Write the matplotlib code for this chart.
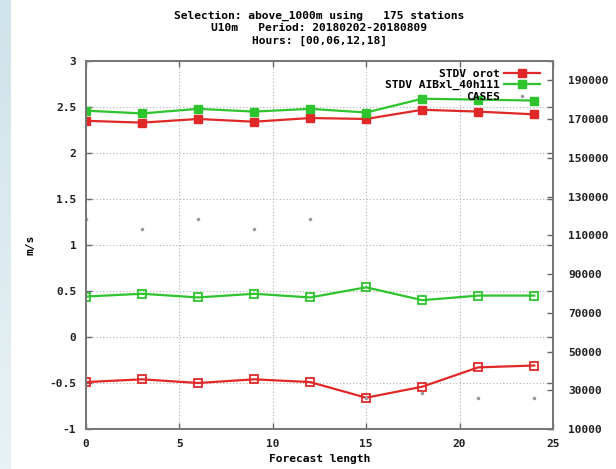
import numpy as np
import matplotlib.pyplot as plt
from matplotlib.lines import Line2D
from matplotlib.colors import LinearSegmentedColormap

# 数据
lead = [0, 3, 6, 9, 12, 15, 18, 21, 24]
stdv_orot = [2.35, 2.33, 2.37, 2.34, 2.38, 2.37, 2.47, 2.45, 2.42]
stdv_aib = [2.46, 2.43, 2.48, 2.45, 2.48, 2.44, 2.59, 2.58, 2.57]
bias_orot = [-0.49, -0.46, -0.50, -0.46, -0.49, -0.66, -0.54, -0.33, -0.31]
bias_aib = [0.44, 0.47, 0.43, 0.47, 0.43, 0.54, 0.40, 0.45, 0.45]
cases = [118300, 113100, 118300, 113100, 118300, 26200, 28500, 26200, 26200]

title_lines = ["Selection: above_1000m using   175 stations",
               "U10m   Period: 20180202-20180809",
               "Hours: [00,06,12,18]"]

RED = '#e02828'
GREEN = '#2ec42e'
FONT = dict(family='DejaVu Sans Mono', weight='bold', size=8.1)

fig = plt.figure(figsize=(6.16, 4.69), dpi=100)
fig.patch.set_facecolor('white')

# 左边浅蓝色条
bg = fig.add_axes([0, 0, 11 / 616, 1])
grad = np.linspace(0, 1, 100).reshape(-1, 1)
bg.imshow(grad, aspect='auto', origin='lower',
          cmap=LinearSegmentedColormap.from_list('bg', ['#e8f2f5', '#cfe3ea']))
bg.axis('off')

ax = fig.add_axes([86 / 616, 40 / 469, 467 / 616, 368 / 469])
ax2 = ax.twinx()

ax.plot(lead, stdv_orot, color=RED, lw=1.6, marker='s', ms=5.5, mec=RED, mfc=RED)
ax.plot(lead, stdv_aib, color=GREEN, lw=1.6, marker='s', ms=5.5, mec=GREEN, mfc=GREEN)
ax.plot(lead, bias_orot, color=RED, lw=1.6, marker='s', ms=5.5, mec=RED, mfc='none', mew=1.3)
ax.plot(lead, bias_aib, color=GREEN, lw=1.6, marker='s', ms=5.5, mec=GREEN, mfc='none', mew=1.3)
ax2.plot(lead, cases, ls='none', marker='.', ms=3, color='#999999')

ax.set_xlim(0, 25)
ax.set_ylim(-1, 3)
ax2.set_ylim(10000, 200000)
ax.set_xticks(np.arange(0, 26, 5))
ax.set_yticks(np.arange(-1, 3.01, 0.5))
ax.set_yticklabels(['-1', '-0.5', '0', '0.5', '1', '1.5', '2', '2.5', '3'])
ax2.set_yticks(np.arange(10000, 190001, 20000))

ax.grid(True, color='#b0b0b0', ls=(0, (1, 2)), lw=0.8)
ax.tick_params(direction='in', length=4, top=True, right=True, width=1, color='#666666', pad=7)
ax2.tick_params(direction='in', length=4, width=1, color='#666666', pad=11)
for a in (ax, ax2):
    for s in a.spines.values():
        s.set_color('#777777')
        s.set_linewidth(1.3)
    for lab in a.get_xticklabels() + a.get_yticklabels():
        lab.set_fontproperties(FONT)
        lab.set_color('#222222')

ax.set_xlabel('Forecast length', fontdict=FONT, labelpad=4)
ax.set_ylabel('m/s', fontdict=FONT, labelpad=10)

fig.text(0.518, 0.978, '\n'.join(title_lines), ha='center', va='top',
         fontdict=FONT, linespacing=1.3)

handles = [Line2D([], [], color=RED, lw=1.6, marker='s', ms=5.5),
           Line2D([], [], color=GREEN, lw=1.6, marker='s', ms=5.5),
           Line2D([], [], ls='none', marker='.', ms=3, color='#999999')]
leg = ax2.legend(handles, ['STDV orot', 'STDV AIBxl_40h111', 'CASES'], loc='upper right',
                 frameon=False, markerfirst=False, prop=FONT, handlelength=3.2,
                 handletextpad=0.45, labelspacing=0.12, borderaxespad=0.3,
                 bbox_to_anchor=(0.99, 1.0))

fig.savefig('out.png', dpi=100)
